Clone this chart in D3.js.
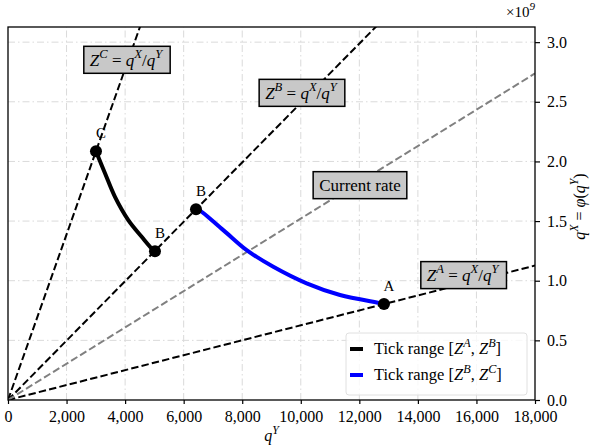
<!DOCTYPE html>
<html lang="en">
<head>
<meta charset="utf-8">
<title>Tick ranges</title>
<script src="https://d3js.org/d3.v7.min.js"></script>
<style>
  body { margin: 0; background: #fff; }
  svg, svg text { font-family: 'Liberation Serif', 'DejaVu Serif', serif; }
  .grid line { stroke: #dadada; stroke-width: 1; stroke-dasharray: 7,3,1.5,3; }
</style>
</head>
<body>
<div id="chart"></div>
<script>
  const w = 595;
  const h = 448;
  const margin = { left: 8, right: 60, top: 27, bottom: 48 };
  const serif = "'Liberation Serif', 'DejaVu Serif', serif";

  // axis ticks (q^X in units of 1e9)
  const xTicks = [0, 2000, 4000, 6000, 8000, 10000, 12000, 14000, 16000, 18000];
  const yTicks = [0, 0.5, 1.0, 1.5, 2.0, 2.5, 3.0];

  // rates Z = q^X / q^Y (in 1e9 per unit of q^Y)
  const rateNames = ["ZA", "ZB", "ZC", "current"];
  const rateValues = [0.0000626, 0.000249, 0.000694, 0.0001521];

  // tick range curves
  const blackQY = [3005, 3313, 3654, 4109, 4566, 4962, 5020];
  const blackQX = [2.085, 1.901, 1.703, 1.508, 1.368, 1.256, 1.248];
  const blueQY = [6421, 6445, 7353, 8152, 9061, 10201, 11339, 12763, 12842];
  const blueQX = [1.600, 1.606, 1.424, 1.256, 1.117, 0.978, 0.880, 0.810, 0.804];

  // marked points
  const pointQY = [3005, 5020, 6421, 12842];
  const pointQX = [2.085, 1.248, 1.600, 0.804];
  const pointLabels = ["C", "B", "B", "A"];

  // boxed annotations
  const annoQY = [4030, 10007, 12022, 15529];
  const annoQX = [2.852, 2.575, 1.801, 1.047];
  const annoTexts = [
    [["Z", "i"], ["C", "s"], [" = ", ""], ["q", "i"], ["X", "s"], ["/", ""], ["q", "i"], ["Y", "s"]],
    [["Z", "i"], ["B", "s"], [" = ", ""], ["q", "i"], ["X", "s"], ["/", ""], ["q", "i"], ["Y", "s"]],
    [["Current rate", ""]],
    [["Z", "i"], ["A", "s"], [" = ", ""], ["q", "i"], ["X", "s"], ["/", ""], ["q", "i"], ["Y", "s"]]
  ];

  const legendLabels = [
    [["Tick range [", ""], ["Z", "i"], ["A", "s"], [", ", ""], ["Z", "i"], ["B", "s"], ["]", ""]],
    [["Tick range [", ""], ["Z", "i"], ["B", "s"], [", ", ""], ["Z", "i"], ["C", "s"], ["]", ""]]
  ];
  const legendColors = ["#000000", "#0000ff"];

  const svg = d3.select("#chart").append("svg")
    .attr("width", w)
    .attr("height", h)
    .attr("font-family", serif);

  const x = d3.scaleLinear().domain([0, 18000]).range([margin.left, w - margin.right]);
  const y = d3.scaleLinear().domain([0, 3.127]).range([h - margin.bottom, margin.top]);

  // writes math-like text with italic and superscript parts
  function mathText(sel, parts, fs) {
    let up = false;
    sel.attr("font-family", serif);
    parts.forEach(p => {
      const t = sel.append("tspan").text(p[0]);
      if (p[1] === "s") {
        t.attr("font-size", fs * 0.74).attr("font-style", "italic");
        if (!up) t.attr("dy", -fs * 0.45);
        up = true;
      } else {
        t.attr("font-size", fs);
        if (p[1] === "i") t.attr("font-style", "italic");
        if (up) t.attr("dy", fs * 0.45);
        up = false;
      }
    });
    return sel;
  }

  svg.append("clipPath").attr("id", "clip")
    .append("rect")
    .attr("x", x(0)).attr("y", y(3.127))
    .attr("width", x(18000) - x(0)).attr("height", y(0) - y(3.127));

  // grid
  const grid = svg.append("g").attr("class", "grid");
  grid.selectAll(".gx").data(xTicks.slice(1, -1)).enter().append("line")
    .attr("x1", d => x(d)).attr("x2", d => x(d))
    .attr("y1", y(0)).attr("y2", y(3.127));
  grid.selectAll(".gy").data(yTicks.slice(1)).enter().append("line")
    .attr("x1", x(0)).attr("x2", x(18000))
    .attr("y1", d => y(d)).attr("y2", d => y(d));

  const plot = svg.append("g").attr("clip-path", "url(#clip)");

  // rate lines through the origin
  plot.selectAll(".rate").data(rateValues).enter().append("line")
    .attr("x1", x(0)).attr("y1", y(0))
    .attr("x2", x(18000)).attr("y2", d => y(d * 18000))
    .attr("stroke", (d, i) => rateNames[i] === "current" ? "#808080" : "#000")
    .attr("stroke-width", 2)
    .attr("stroke-dasharray", "7.4,3.2");

  const line = d3.line()
    .x(d => x(d[0]))
    .y(d => y(d[1]))
    .curve(d3.curveCatmullRom);

  plot.append("path")
    .datum(blackQY.map((v, i) => [v, blackQX[i]]))
    .attr("d", line)
    .attr("fill", "none").attr("stroke", "#000").attr("stroke-width", 4);

  plot.append("path")
    .datum(blueQY.map((v, i) => [v, blueQX[i]]))
    .attr("d", line)
    .attr("fill", "none").attr("stroke", "#0000ff").attr("stroke-width", 4);

  plot.selectAll(".pt").data(pointQY).enter().append("circle")
    .attr("cx", d => x(d))
    .attr("cy", (d, i) => y(pointQX[i]))
    .attr("r", 6)
    .attr("fill", "#000");

  svg.selectAll(".ptlab").data(pointLabels).enter().append("text")
    .attr("x", (d, i) => x(pointQY[i]) + 5)
    .attr("y", (d, i) => y(pointQX[i]) - 13)
    .attr("text-anchor", "middle")
    .attr("font-size", 15)
    .text(d => d);

  // boxed annotations
  annoTexts.forEach((parts, i) => {
    const g = svg.append("g");
    const cx = x(annoQY[i]);
    const cy = y(annoQX[i]);
    const rect = g.append("rect");
    const t = g.append("text")
      .attr("x", cx).attr("y", cy + 6)
      .attr("text-anchor", "middle");
    mathText(t, parts, 17);
    const bb = t.node().getBBox();
    rect.attr("x", bb.x - 6).attr("width", bb.width + 12)
      .attr("y", cy - 13.5).attr("height", 27)
      .attr("fill", "#c8c8c8").attr("stroke", "#000").attr("stroke-width", 1.5);
  });

  // axes
  svg.append("g")
    .attr("transform", `translate(0,${y(0)})`)
    .call(d3.axisBottom(x).tickValues(xTicks).tickFormat(d3.format(",")).tickSize(4).tickPadding(7).tickSizeOuter(0))
    .attr("font-family", serif).attr("font-size", 16)
    .call(g => g.select(".domain").remove())
    .call(g => g.selectAll("text").attr("fill", "#000"))
    .call(g => g.selectAll("line").attr("stroke-width", 1.2));

  svg.append("g")
    .attr("transform", `translate(${x(18000)},0)`)
    .call(d3.axisRight(y).tickValues(yTicks).tickFormat(d3.format(".1f")).tickSize(5).tickPadding(7).tickSizeOuter(0))
    .attr("font-family", serif).attr("font-size", 16)
    .call(g => g.select(".domain").remove())
    .call(g => g.selectAll("text").attr("fill", "#000"))
    .call(g => g.selectAll("line").attr("stroke-width", 1.2));

  svg.append("rect")
    .attr("x", x(0)).attr("y", y(3.127))
    .attr("width", x(18000) - x(0)).attr("height", y(0) - y(3.127))
    .attr("fill", "none").attr("stroke", "#000").attr("stroke-width", 1.3);

  // axis labels
  mathText(svg.append("text")
    .attr("x", (x(0) + x(18000)) / 2).attr("y", 441)
    .attr("text-anchor", "middle"), [["q", "i"], ["Y", "s"]], 16);

  mathText(svg.append("text")
    .attr("transform", `translate(585,${(y(0) + y(3.127)) / 2 - 7}) rotate(-90)`)
    .attr("text-anchor", "middle"),
    [["q", "i"], ["X", "s"], [" = ", ""], ["φ", "i"], ["(", ""], ["q", "i"], ["Y", "s"], [")", ""]], 16);

  const mult = svg.append("text")
    .attr("x", x(18000)).attr("y", 17)
    .attr("text-anchor", "end");
  mathText(mult, [["×10", ""], ["9", "s"]], 15);

  // legend
  const lg = svg.append("g");
  lg.append("rect")
    .attr("x", 346).attr("y", 333).attr("width", 181).attr("height", 62)
    .attr("rx", 3)
    .attr("fill", "#fff").attr("fill-opacity", 0.8)
    .attr("stroke", "#e0e0e0");
  legendLabels.forEach((parts, i) => {
    const yy = 349 + i * 26;
    lg.append("line")
      .attr("x1", 350).attr("x2", 363).attr("y1", yy).attr("y2", yy)
      .attr("stroke", legendColors[i]).attr("stroke-width", 4);
    mathText(lg.append("text").attr("x", 374).attr("y", yy + 5), parts, 16.5);
  });
</script>
</body>
</html>
